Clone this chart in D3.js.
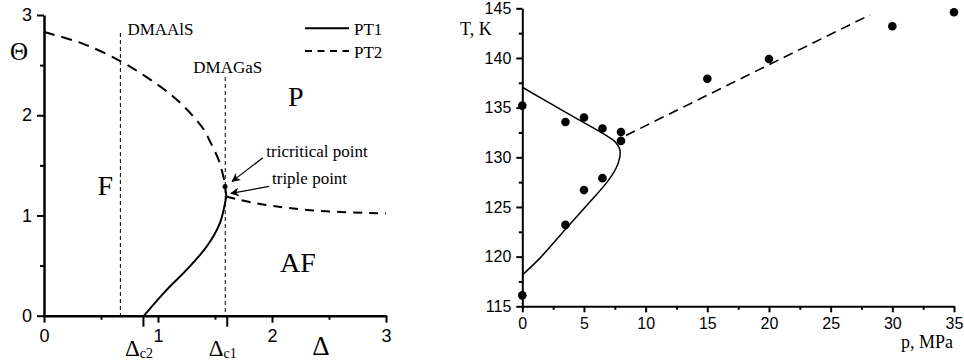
<!DOCTYPE html>
<html><head><meta charset="utf-8">
<script src="https://cdn.jsdelivr.net/npm/d3@7/dist/d3.min.js"></script>
<style>
body{margin:0;background:#fff;}
svg{display:block;}
.sans{font-family:"Liberation Sans",Arial,sans-serif;}
.serif{font-family:"Liberation Serif","Times New Roman",serif;}
</style></head>
<body><svg id="c" width="964" height="360"></svg>
<script>
// ---------- Left panel data (Δ, Θ) ----------
const pt2Upper = [[0,2.83],[0.35,2.71],[0.67,2.54],[0.9,2.38],[1.13,2.19],[1.3,2.0],[1.40,1.86],[1.46,1.73],[1.53,1.56],[1.573,1.39],[1.588,1.29],[1.60,1.19]];
const pt2Lower = [[1.60,1.19],[1.7,1.16],[1.92,1.11],[2.36,1.05],[3.0,1.02]];
const pt1Left  = [[0.877,0],[1.076,0.257],[1.25,0.457],[1.427,0.69],[1.544,0.927],[1.594,1.157],[1.60,1.19]];
const tricritical = [1.588,1.29];
const deltaC2 = 0.868, deltaC1 = 1.603;
const dmaAlS = 0.67, dmaGaS = 1.59;
const leftXTicks = [0,1,2,3], leftXMinor = [0.5,1.5,2.5];
const leftYTicks = [0,1,2,3], leftYMinor = [0.5,1.5,2.5];
const regionLabels = [["F",0.47,1.2],["P",2.14,2.09],["AF",2.07,0.44]];

// ---------- Right panel data (p MPa, T K) ----------
const pExp = [0,3.5,5.0,6.5,8.0,8.0,6.5,5.0,3.5,0,15,20,30,35];
const tExp = [135.2,133.55,134.0,132.9,132.55,131.65,127.9,126.7,123.2,116.1,137.9,139.9,143.2,144.6];
const pt1Right = [[0,137.05],[3.7,134.4],[7.4,131.7],[7.75,131.2],[7.92,130.7],[7.9,130.0],[7.6,128.9],[6.84,127.45],[5.4,125.4],[3.5,122.75],[1.43,119.85],[0,118.15]];
const pt2Right = [[8.4,132.2],[28.2,144.35]];
const rightXTicks = [0,5,10,15,20,25,30,35];
const rightXMinor = [2.5,7.5,12.5,17.5,22.5,27.5,32.5];
const rightYTicks = [115,120,125,130,135,140,145];
const rightYMinor = [117.5,122.5,127.5,132.5,137.5,142.5];

const svg = d3.select("#c");

// ================= LEFT PANEL =================
const xL = d3.scaleLinear().domain([0,3]).range([44,386]);
const yL = d3.scaleLinear().domain([0,3]).range([315.7,15]);
const L = svg.append("g");

// vertical dashed reference lines
L.append("line").attr("x1",xL(dmaAlS)).attr("x2",xL(dmaAlS)).attr("y1",33).attr("y2",yL(0))
 .attr("stroke","#000").attr("stroke-width",1).attr("stroke-dasharray","4,3");
L.append("line").attr("x1",xL(dmaGaS)).attr("x2",xL(dmaGaS)).attr("y1",77).attr("y2",yL(0))
 .attr("stroke","#000").attr("stroke-width",1).attr("stroke-dasharray","4,3");
L.append("text").attr("class","serif").attr("x",xL(dmaAlS)+7).attr("y",35).attr("font-size",17).text("DMAAlS");
L.append("text").attr("class","serif").attr("x",xL(dmaGaS)-32).attr("y",73).attr("font-size",17).text("DMAGaS");

const lineL = d3.line().x(d=>xL(d[0])).y(d=>yL(d[1])).curve(d3.curveCatmullRom.alpha(0.5));
L.append("path").attr("d",lineL(pt2Upper)).attr("fill","none").attr("stroke","#000").attr("stroke-width",2).attr("stroke-dasharray","11,7");
L.append("path").attr("d",lineL(pt2Lower)).attr("fill","none").attr("stroke","#000").attr("stroke-width",2).attr("stroke-dasharray","9,7");
L.append("path").attr("d",lineL(pt1Left)).attr("fill","none").attr("stroke","#000").attr("stroke-width",2);
L.append("circle").attr("cx",xL(tricritical[0])).attr("cy",yL(tricritical[1])).attr("r",2.5).attr("fill","#000");

// axes
const axXL = d3.axisBottom(xL).tickValues(leftXTicks).tickSize(7).tickSizeOuter(0).tickPadding(7).tickFormat(d3.format("d"));
const gxL = L.append("g").attr("transform",`translate(0,${yL(0)})`).call(axXL);
gxL.select(".domain").attr("stroke-width",2.5);
gxL.selectAll(".tick line").attr("stroke-width",2);
gxL.selectAll("text").attr("class","sans").attr("font-size",18).attr("fill","#000");
const gxLm = L.append("g").attr("transform",`translate(0,${yL(0)})`).call(d3.axisBottom(xL).tickValues(leftXMinor).tickSize(4).tickFormat(""));
gxLm.select(".domain").remove(); gxLm.selectAll(".tick line").attr("stroke-width",2);
const gxLs = L.append("g").attr("transform",`translate(0,${yL(0)})`).call(d3.axisBottom(xL).tickValues([deltaC2,deltaC1]).tickSize(11).tickFormat(""));
gxLs.select(".domain").remove(); gxLs.selectAll(".tick line").attr("stroke-width",2);

const axYL = d3.axisLeft(yL).tickValues(leftYTicks).tickSize(7).tickSizeOuter(0).tickPadding(5).tickFormat(d3.format("d"));
const gyL = L.append("g").attr("transform",`translate(${xL(0)},0)`).call(axYL);
gyL.select(".domain").attr("stroke-width",2.5);
gyL.selectAll(".tick line").attr("stroke-width",2);
gyL.selectAll("text").attr("class","sans").attr("font-size",18).attr("fill","#000");
const gyLm = L.append("g").attr("transform",`translate(${xL(0)},0)`).call(d3.axisLeft(yL).tickValues(leftYMinor).tickSize(4).tickFormat(""));
gyLm.select(".domain").remove(); gyLm.selectAll(".tick line").attr("stroke-width",2);

// axis titles
L.append("text").attr("class","serif").attr("x",19).attr("y",60).attr("text-anchor","middle").attr("font-size",25).text("Θ");
L.append("text").attr("class","serif").attr("x",321).attr("y",355).attr("text-anchor","middle").attr("font-size",27).text("Δ");
[[deltaC2,"c2"],[deltaC1,"c1"]].forEach(([v,s])=>{
  const t = L.append("text").attr("class","serif").attr("x",xL(v)-18).attr("y",356).attr("font-size",23);
  t.append("tspan").text("Δ");
  t.append("tspan").attr("font-size",14).attr("dy",2).text(s);
});

// region labels
regionLabels.forEach(([s,x,y])=>{
  L.append("text").attr("class","serif").attr("x",xL(x)).attr("y",yL(y)).attr("font-size",28).text(s);
});

// legend
L.append("line").attr("x1",305).attr("x2",349).attr("y1",28.3).attr("y2",28.3).attr("stroke","#000").attr("stroke-width",2);
L.append("line").attr("x1",305).attr("x2",349).attr("y1",51).attr("y2",51).attr("stroke","#000").attr("stroke-width",2).attr("stroke-dasharray","7,5.5");
L.append("text").attr("class","serif").attr("x",354).attr("y",35).attr("font-size",17).text("PT1");
L.append("text").attr("class","serif").attr("x",354).attr("y",58).attr("font-size",17).text("PT2");

// annotations
const defs = svg.append("defs");
defs.append("marker").attr("id","ah").attr("viewBox","0 0 10 10").attr("refX",9).attr("refY",5)
  .attr("markerWidth",9).attr("markerHeight",9).attr("markerUnits","userSpaceOnUse").attr("orient","auto")
  .append("path").attr("d","M0,0 L10,5 L0,10 L3,5 Z").attr("fill","#000");
const annos = [
  {text:"tricritical point", tx:1.95, ty:1.587, from:[1.92,1.575], to:[1.65,1.34]},
  {text:"triple point", tx:2.0, ty:1.31, from:[1.975,1.29], to:[1.64,1.22]}
];
annos.forEach(a=>{
  L.append("text").attr("class","serif").attr("x",xL(a.tx)).attr("y",yL(a.ty)).attr("font-size",17).text(a.text);
  L.append("line").attr("x1",xL(a.from[0])).attr("y1",yL(a.from[1])).attr("x2",xL(a.to[0])).attr("y2",yL(a.to[1]))
    .attr("stroke","#000").attr("stroke-width",1.2).attr("marker-end","url(#ah)");
});

// ================= RIGHT PANEL =================
const xR = d3.scaleLinear().domain([0,35]).range([522.3,954]);
const yR = d3.scaleLinear().domain([115,145]).range([306.3,8.3]);
const R = svg.append("g");

const lineR = d3.line().x(d=>xR(d[0])).y(d=>yR(d[1])).curve(d3.curveCatmullRom.alpha(0.5));
R.append("path").attr("d",lineR(pt1Right)).attr("fill","none").attr("stroke","#000").attr("stroke-width",1.5);
R.append("path").attr("d",d3.line().x(d=>xR(d[0])).y(d=>yR(d[1]))(pt2Right)).attr("fill","none").attr("stroke","#000").attr("stroke-width",1.6).attr("stroke-dasharray","10,6");

R.selectAll("circle.pt").data(pExp.map((p,i)=>[p,tExp[i]])).enter().append("circle")
  .attr("class","pt").attr("cx",d=>xR(d[0])).attr("cy",d=>yR(d[1])).attr("r",4.3).attr("fill","#000");

const gxR = R.append("g").attr("transform",`translate(0,${yR(115)})`)
  .call(d3.axisBottom(xR).tickValues(rightXTicks).tickSize(6).tickSizeOuter(0).tickPadding(5));
gxR.select(".domain").attr("stroke-width",2);
gxR.selectAll(".tick line").attr("stroke-width",2);
gxR.selectAll("text").attr("class","sans").attr("font-size",16).attr("fill","#000");
const gxRm = R.append("g").attr("transform",`translate(0,${yR(115)})`).call(d3.axisBottom(xR).tickValues(rightXMinor).tickSize(3.5).tickFormat(""));
gxRm.select(".domain").remove(); gxRm.selectAll(".tick line").attr("stroke-width",2);

const gyR = R.append("g").attr("transform",`translate(${xR(0)},0)`)
  .call(d3.axisLeft(yR).tickValues(rightYTicks).tickSize(6).tickSizeOuter(0).tickPadding(5));
gyR.select(".domain").attr("stroke-width",2);
gyR.selectAll(".tick line").attr("stroke-width",2);
gyR.selectAll("text").attr("class","sans").attr("font-size",16).attr("fill","#000");
const gyRm = R.append("g").attr("transform",`translate(${xR(0)},0)`).call(d3.axisLeft(yR).tickValues(rightYMinor).tickSize(3.5).tickFormat(""));
gyRm.select(".domain").remove(); gyRm.selectAll(".tick line").attr("stroke-width",2);

R.append("text").attr("class","serif").attr("x",460).attr("y",35).attr("font-size",18).text("T, K");
R.append("text").attr("class","serif").attr("x",953).attr("y",348).attr("text-anchor","end").attr("font-size",18).text("p, MPa");
</script></body></html>
